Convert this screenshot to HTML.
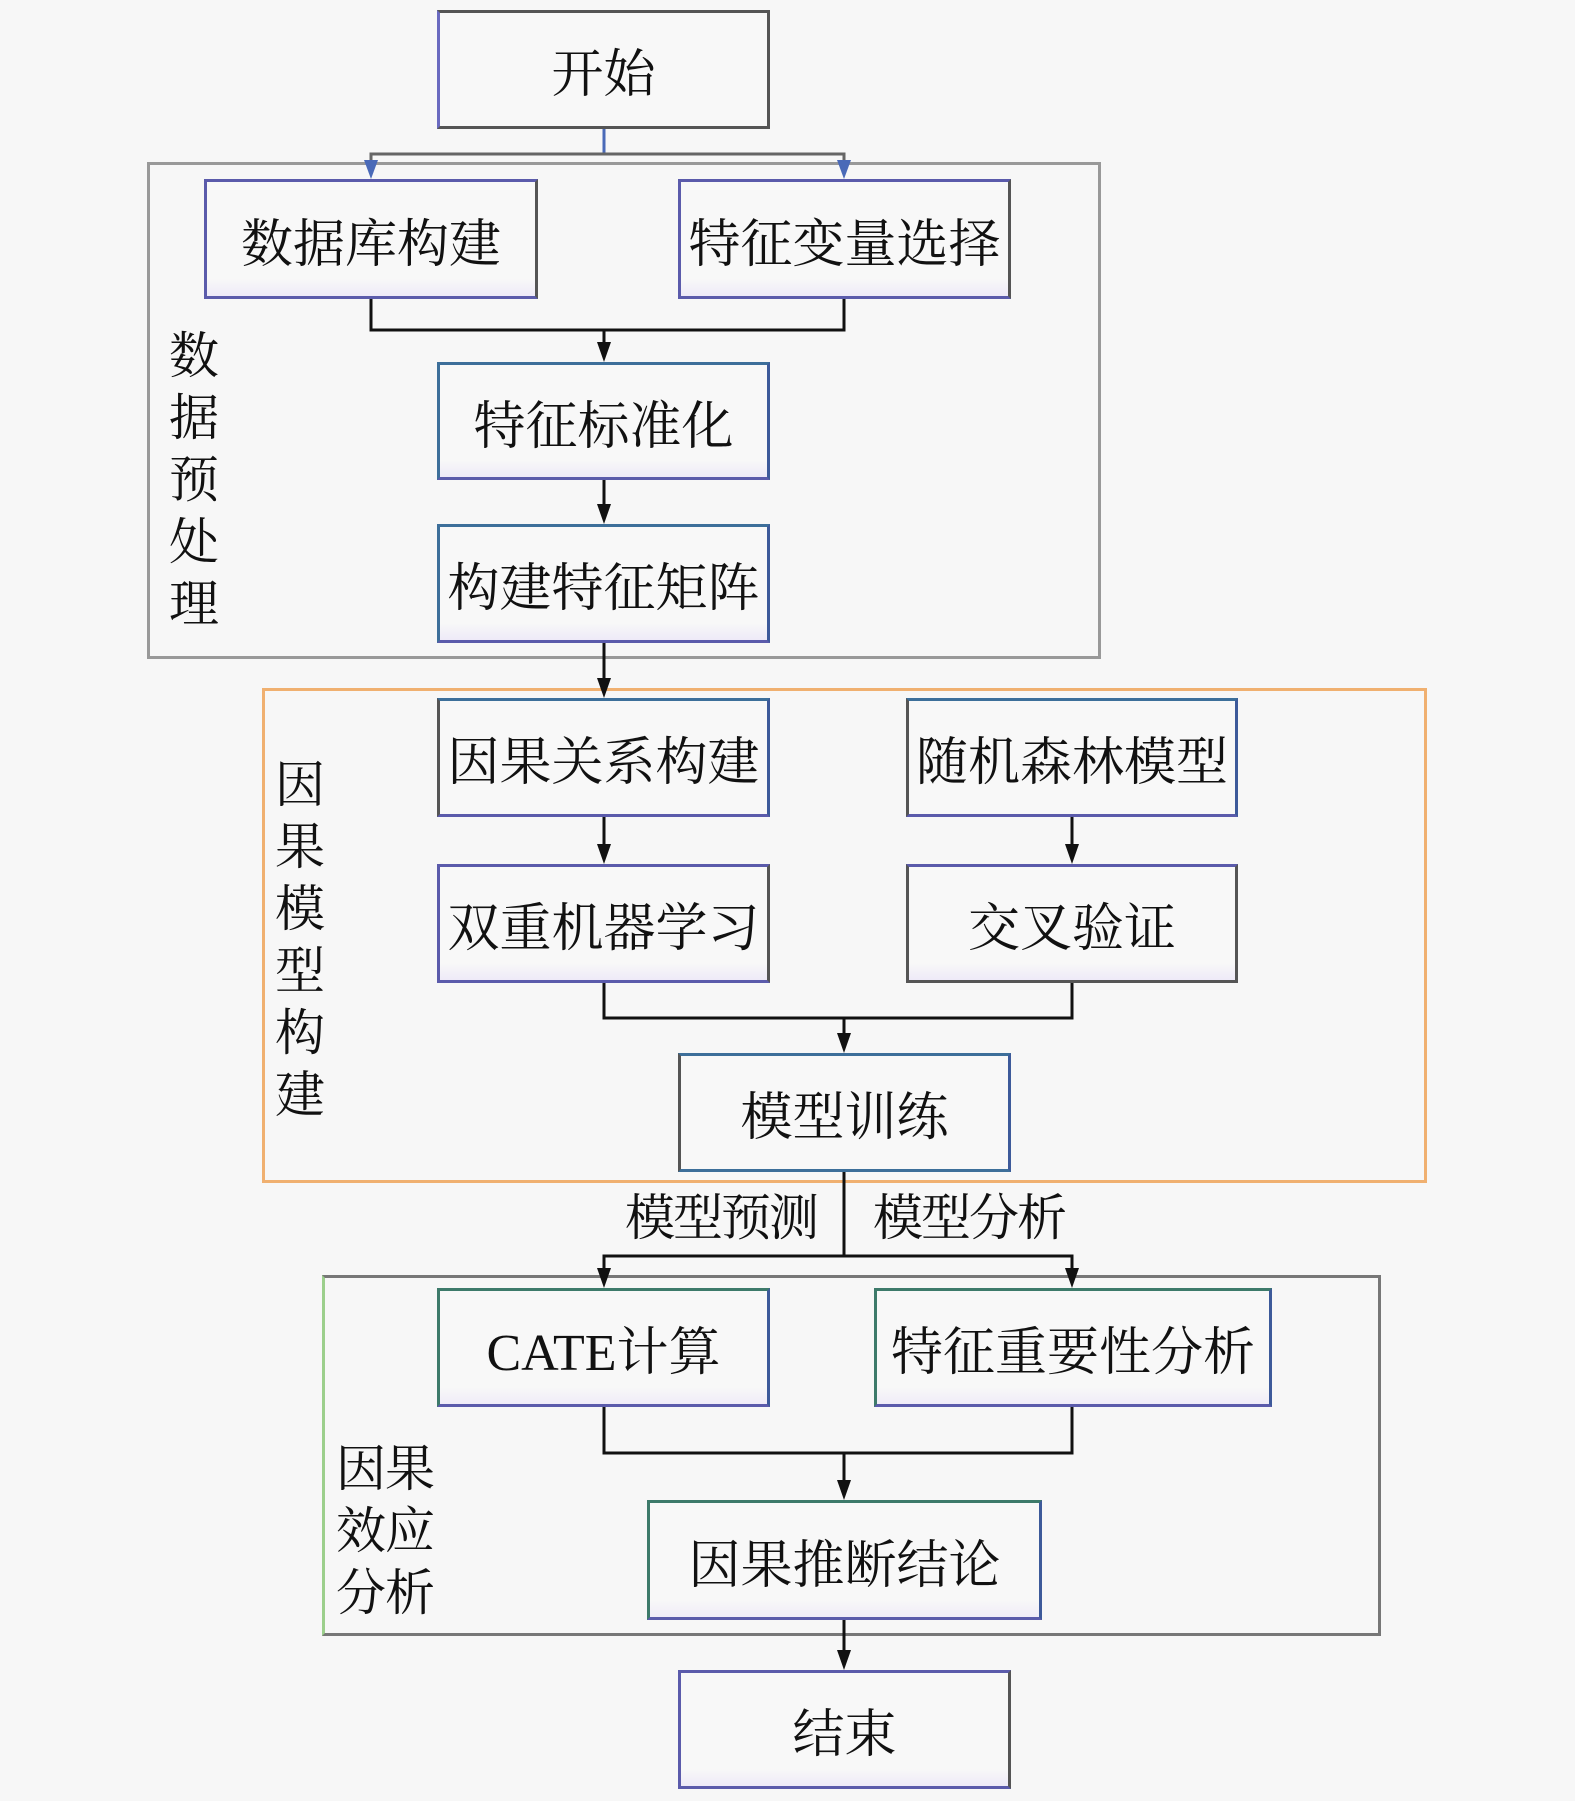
<!DOCTYPE html>
<html><head><meta charset="utf-8">
<style>
body{margin:0;width:1575px;height:1801px;background:#f7f7f7;position:relative;overflow:hidden;font-family:"Liberation Serif","Noto Serif CJK SC",serif;}
.c{position:absolute;box-sizing:border-box;}
.b{position:absolute;box-sizing:border-box;border:3px solid #555;background:#f8f8f8;display:flex;align-items:center;justify-content:center;font-size:52px;color:#111;white-space:nowrap;letter-spacing:0px}
.p{border-color:#5b5bab #555 #5b5bab #5b5bab;background:linear-gradient(#f8f8f8 85%,#eeeaf8);}
.t{border-color:#3d6f9a #3d5a9a #5b5bab #555;}
.g{border-color:#3d7a6a #3d5a9a #5b5bab #3d7a6a;background:linear-gradient(#f8f8f8 85%,#f0ecf8);}
.lab{position:absolute;font-size:50px;color:#111;line-height:62px;text-align:center;}
</style></head><body>
<div class="c" style="left:147px;top:162px;width:954px;height:497px;border:3px solid #999;"></div>
<div class="c" style="left:262px;top:688px;width:1165px;height:495px;border:3px solid #f0b070;"></div>
<div class="c" style="left:322px;top:1275px;width:1059px;height:361px;border:3px solid #777;border-left-color:#9ccf8c;"></div>

<svg width="1575" height="1801" style="position:absolute;left:0;top:0">
<g fill="none" stroke-width="3">
<path d="M604 129 V154" stroke="#4a6ab8"/>
<path d="M371 170 V154 H844 V170" stroke="#666"/>
<g stroke="#111">
<path d="M371 299 V330 H844 V299"/><path d="M604 330 V350"/>
<path d="M604 480 V512"/>
<path d="M604 643 V686"/>
<path d="M604 817 V852"/>
<path d="M1072 817 V852"/>
<path d="M604 983 V1018 H1072 V983"/><path d="M844 1018 V1041"/>
<path d="M844 1172 V1256"/>
<path d="M604 1276 V1256 H1072 V1276"/>
<path d="M604 1407 V1453 H1072 V1407"/><path d="M844 1453 V1488"/>
<path d="M844 1620 V1658"/>
</g></g>
<g fill="#4a6ab8">
<path d="M364 160 L378 160 L371 179 z"/><path d="M837 160 L851 160 L844 179 z"/>
</g>
<g fill="#111">
<path d="M597 342 L611 342 L604 362 z"/>
<path d="M597 504 L611 504 L604 524 z"/>
<path d="M597 678 L611 678 L604 698 z"/>
<path d="M597 844 L611 844 L604 864 z"/>
<path d="M1065 844 L1079 844 L1072 864 z"/>
<path d="M837 1033 L851 1033 L844 1053 z"/>
<path d="M597 1268 L611 1268 L604 1288 z"/>
<path d="M1065 1268 L1079 1268 L1072 1288 z"/>
<path d="M837 1480 L851 1480 L844 1500 z"/>
<path d="M837 1650 L851 1650 L844 1670 z"/>
</g></svg>

<div class="b" style="left:437px;top:10px;width:333px;height:119px;border-color:#555 #555 #555 #6a6ac0">开始</div>
<div class="b p" style="left:204px;top:179px;width:334px;height:120px">数据库构建</div>
<div class="b p" style="left:678px;top:179px;width:333px;height:120px">特征变量选择</div>
<div class="b p" style="left:437px;top:362px;width:333px;height:118px;border-color:#3d6f9a #3d5a9a #5b5bab #3d6f9a">特征标准化</div>
<div class="b p" style="left:437px;top:524px;width:333px;height:119px;border-color:#3d6f9a #3d5a9a #5b5bab #3d6f9a">构建特征矩阵</div>
<div class="b t" style="left:437px;top:698px;width:333px;height:119px">因果关系构建</div>
<div class="b t" style="left:906px;top:698px;width:332px;height:119px">随机森林模型</div>
<div class="b p" style="left:437px;top:864px;width:333px;height:119px">双重机器学习</div>
<div class="b p" style="left:906px;top:864px;width:332px;height:119px;border-color:#5b5bab #555 #555 #555">交叉验证</div>
<div class="b t" style="left:678px;top:1053px;width:333px;height:119px;border-bottom-color:#3d6f9a">模型训练</div>
<div class="b g" style="left:437px;top:1288px;width:333px;height:119px">CATE计算</div>
<div class="b g" style="left:874px;top:1288px;width:398px;height:119px">特征重要性分析</div>
<div class="b g" style="left:647px;top:1500px;width:395px;height:120px">因果推断结论</div>
<div class="b p" style="left:678px;top:1670px;width:333px;height:119px">结束</div>

<div class="lab" style="left:166px;top:325px;width:56px">数<br>据<br>预<br>处<br>理</div>
<div class="lab" style="left:272px;top:754px;width:56px">因<br>果<br>模<br>型<br>构<br>建</div>
<div class="lab" style="left:330px;top:1438px;width:110px;letter-spacing:-1px">因果<br>效应<br>分析</div>
<div class="lab" style="left:610px;top:1187px;width:222px;letter-spacing:-2px">模型预测</div>
<div class="lab" style="left:858px;top:1187px;width:222px;letter-spacing:-2px">模型分析</div>
</body></html>
